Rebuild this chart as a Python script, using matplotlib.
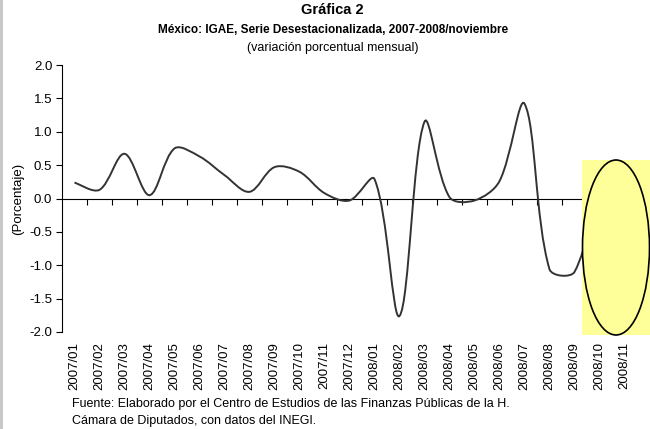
import numpy as np
import matplotlib
matplotlib.use('Agg')
import matplotlib.pyplot as plt
from matplotlib.path import Path
from matplotlib.patches import PathPatch, Rectangle, Ellipse

# Datos (variacion porcentual mensual, serie desestacionalizada)
meses = ['2007/01', '2007/02', '2007/03', '2007/04', '2007/05', '2007/06',
         '2007/07', '2007/08', '2007/09', '2007/10', '2007/11', '2007/12',
         '2008/01', '2008/02', '2008/03', '2008/04', '2008/05', '2008/06',
         '2008/07', '2008/08', '2008/09', '2008/10', '2008/11']
igae = [0.24, 0.13, 0.67, 0.05, 0.75, 0.63, 0.35, 0.10, 0.47, 0.40, 0.08,
        -0.03, 0.29, -1.76, 1.15, 0.02, -0.03, 0.26, 1.42, -1.06, -1.10, 0.30]
yticks = [-2.0, -1.5, -1.0, -0.5, 0.0, 0.5, 1.0, 1.5, 2.0]

plt.rcParams['font.family'] = ['Liberation Sans', 'DejaVu Sans']


def curva_suave(ax, x, y):
    # linea suavizada tipo Excel: tangente de los vecinos, brazo segun
    # la longitud de cada tramo medida en pantalla
    pts = ax.transData.transform(np.column_stack([x, y]))
    n = len(pts)

    def d(i, j):
        return np.hypot(*(pts[j] - pts[i]))

    verts = [pts[0]]
    codes = [Path.MOVETO]
    for i in range(n - 1):
        a, b = max(i - 1, 0), min(i + 2, n - 1)
        d01, d12, d23 = d(a, i), d(i, i + 1), d(i + 1, b)
        f1 = d12 / (d01 + d12) / 3 if d01 > 0 else 1 / 6
        f2 = d12 / (d12 + d23) / 3 if d23 > 0 else 1 / 6
        c1 = pts[i] + (pts[i + 1] - pts[a]) * f1
        c2 = pts[i + 1] - (pts[b] - pts[i]) * f2
        verts += [c1, c2, pts[i + 1]]
        codes += [Path.CURVE4] * 3
    verts = ax.transData.inverted().transform(np.array(verts))
    return Path(verts, codes)


fig = plt.figure(figsize=(6.5, 4.29), dpi=100)
ax = fig.add_axes([62 / 650, 1 - 332 / 429, 575 / 650, 267 / 429])

ax.set_xlim(-0.5, len(meses) - 0.5)
ax.set_ylim(-2.0, 2.0)

x = np.arange(len(igae))
ax.add_patch(PathPatch(curva_suave(ax, x, igae), facecolor='none',
                       edgecolor='#333333', lw=1.4, zorder=3))

ax.set_yticks(yticks)
ax.set_yticklabels([f'{v:.1f}' for v in yticks])
ax.tick_params(axis='y', direction='out', length=4, width=0.8, pad=3,
               labelsize=9.5)

# eje x sobre el cero con marcas entre categorias
ax.spines['bottom'].set_position(('data', 0))
ax.spines['top'].set_visible(False)
ax.spines['right'].set_visible(False)
ax.set_xticks(np.arange(len(meses)) + 0.5)
ax.tick_params(axis='x', direction='out', length=4, width=0.8,
               labelbottom=False)

# etiquetas de meses abajo
sec = ax.secondary_xaxis('bottom')
sec.spines['bottom'].set_visible(False)
sec.set_xticks(np.arange(len(meses)))
sec.set_xticklabels(meses, rotation=90, fontsize=9.5)
sec.tick_params(length=0, pad=7)

ax.set_ylabel('(Porcentaje)', fontsize=9.5, labelpad=4)

fig.text(0.512, 0.976, 'Gráfica 2', ha='center', va='center',
         fontsize=10.5, fontweight='bold')
fig.text(0.512, 0.929, 'México: IGAE, Serie Desestacionalizada, 2007-2008/noviembre',
         ha='center', va='center', fontsize=8.5, fontweight='bold')
fig.text(0.512, 0.889, '(variación porcentual mensual)', ha='center',
         va='center', fontsize=9)
fig.text(72 / 650, 1 - 404 / 429,
         'Fuente: Elaborado por el Centro de Estudios de las Finanzas Públicas de la H.',
         ha='left', va='center', fontsize=9)
fig.text(72 / 650, 1 - 421 / 429, 'Cámara de Diputados, con datos del INEGI.',
         ha='left', va='center', fontsize=9)

# recuadro amarillo y elipse
fig.patches.append(Rectangle((582 / 650, 1 - 335 / 429), 68 / 650, 175 / 429,
                             transform=fig.transFigure, facecolor='#ffff99',
                             edgecolor='none', zorder=5))
fig.patches.append(Ellipse((616 / 650, 1 - 247.5 / 429), 67 / 650, 175 / 429,
                           transform=fig.transFigure, facecolor='none',
                           edgecolor='black', lw=1.2, zorder=6))
# borde gris izquierdo
fig.patches.append(Rectangle((0, 0), 3 / 650, 1, transform=fig.transFigure,
                             facecolor='#c8c8c8', edgecolor='none', zorder=6))

fig.savefig('out.png', dpi=100)
